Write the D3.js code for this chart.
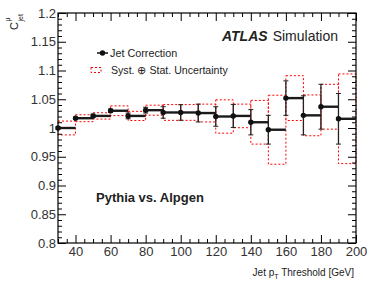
<!DOCTYPE html>
<html>
<head>
<meta charset="utf-8">
<script src="https://cdn.jsdelivr.net/npm/d3@7"></script>
<style>
  body { margin: 0; background: #fff; }
  svg { display: block; font-family: "Liberation Sans", Arial, sans-serif; }
</style>
</head>
<body>
<div id="chart"></div>
<script>
// jet pT thresholds (lower bin edge), bin width 10 GeV
var thresholds = [30, 40, 50, 60, 70, 80, 90, 100, 110, 120, 130, 140, 150, 160, 170, 180, 190];
var correction = [1.000, 1.017, 1.021, 1.030, 1.021, 1.031, 1.027, 1.027, 1.026, 1.020, 1.021, 1.010, 0.997, 1.052, 1.022, 1.037, 1.016];
var statErr = [0.002, 0.002, 0.003, 0.003, 0.005, 0.005, 0.010, 0.0135, 0.0155, 0.017, 0.020, 0.022, 0.025, 0.030, 0.034, 0.039, 0.044];
var totalErr = [0.012, 0.006, 0.0055, 0.0085, 0.008, 0.0087, 0.0137, 0.0137, 0.0155, 0.029, 0.0205, 0.038, 0.060, 0.039, 0.0355, 0.039, 0.078];
var binWidth = 10;

var xMajor = [40, 60, 80, 100, 120, 140, 160, 180, 200];
var yMajor = [0.8, 0.85, 0.9, 0.95, 1, 1.05, 1.1, 1.15, 1.2];
var yLabels = ['0.8', '0.85', '0.9', '0.95', '1', '1.05', '1.1', '1.15', '1.2'];

var width = 367, height = 284;
var frame = {left: 58, right: 356, top: 13, bottom: 243};

var svg = d3.select('#chart').append('svg')
  .attr('width', width)
  .attr('height', height);

var x = d3.scaleLinear().domain([30, 200]).range([frame.left, frame.right]);
var y = d3.scaleLinear().domain([0.8, 1.2]).range([frame.bottom, frame.top]);

var xMinor = d3.range(30, 201, 5).filter(function(v) { return xMajor.indexOf(v) < 0; });
var yMinor = d3.range(80, 121, 1).map(function(v) { return v / 100; })
  .filter(function(v) { return Math.round(v * 100) % 5 != 0; });

// uncertainty boxes, red dotted
svg.append('g').selectAll('rect')
  .data(thresholds)
  .enter()
  .append('rect')
  .attr('x', function(d) { return x(d); })
  .attr('width', function(d) { return x(d + binWidth) - x(d); })
  .attr('y', function(d, i) { return y(correction[i] + totalErr[i]); })
  .attr('height', function(d, i) { return y(correction[i] - totalErr[i]) - y(correction[i] + totalErr[i]); })
  .attr('fill', 'none')
  .attr('stroke', '#f00')
  .attr('stroke-width', 1)
  .attr('stroke-dasharray', '2,2');

// axes: ticks point inward on all four sides
function drawAxis(axis, tx, ty) {
  var g = svg.append('g').attr('transform', 'translate(' + tx + ',' + ty + ')').call(axis);
  g.select('.domain').remove();
  g.selectAll('line').attr('stroke', '#000').attr('stroke-width', 1);
  return g;
}

var bottom = drawAxis(d3.axisBottom(x).tickValues(xMajor).tickSize(-8).tickPadding(4), 0, frame.bottom);
drawAxis(d3.axisBottom(x).tickValues(xMinor).tickSize(-4).tickFormat(''), 0, frame.bottom);
drawAxis(d3.axisTop(x).tickValues(xMajor).tickSize(-8).tickFormat(''), 0, frame.top);
drawAxis(d3.axisTop(x).tickValues(xMinor).tickSize(-4).tickFormat(''), 0, frame.top);

var left = drawAxis(d3.axisLeft(y).tickValues(yMajor).tickSize(-8).tickPadding(2)
  .tickFormat(function(d, i) { return yLabels[i]; }), frame.left, 0);
drawAxis(d3.axisLeft(y).tickValues(yMinor).tickSize(-4).tickFormat(''), frame.left, 0);
drawAxis(d3.axisRight(y).tickValues(yMajor).tickSize(-8).tickFormat(''), frame.right, 0);
drawAxis(d3.axisRight(y).tickValues(yMinor).tickSize(-4).tickFormat(''), frame.right, 0);

[bottom, left].forEach(function(g) {
  g.selectAll('text')
    .attr('font-family', '"Liberation Sans", Arial, sans-serif')
    .attr('font-size', 13)
    .attr('fill', '#333');
});

svg.append('rect')
  .attr('x', frame.left).attr('y', frame.top)
  .attr('width', frame.right - frame.left).attr('height', frame.bottom - frame.top)
  .attr('fill', 'none').attr('stroke', '#000').attr('stroke-width', 1.2);

// error bars
var marks = svg.append('g');
marks.selectAll('line.err')
  .data(thresholds)
  .enter()
  .append('line')
  .classed('err', true)
  .attr('x1', function(d) { return x(d); })
  .attr('x2', function(d) { return x(d); })
  .attr('y1', function(d, i) { return y(correction[i] + statErr[i]); })
  .attr('y2', function(d, i) { return y(correction[i] - statErr[i]); })
  .attr('stroke', '#222')
  .attr('stroke-width', 1.3);

[1, -1].forEach(function(sign) {
  marks.selectAll('line.cap' + (sign > 0 ? 'up' : 'dn'))
    .data(thresholds)
    .enter()
    .append('line')
    .attr('x1', function(d) { return x(d) - 2.5; })
    .attr('x2', function(d) { return x(d) + 2.5; })
    .attr('y1', function(d, i) { return y(correction[i] + sign * statErr[i]); })
    .attr('y2', function(d, i) { return y(correction[i] + sign * statErr[i]); })
    .attr('stroke', '#222')
    .attr('stroke-width', 1);
});

// horizontal bin bars
marks.selectAll('line.bin')
  .data(thresholds)
  .enter()
  .append('line')
  .attr('x1', function(d) { return x(d); })
  .attr('x2', function(d) { return x(d + binWidth); })
  .attr('y1', function(d, i) { return y(correction[i]); })
  .attr('y2', function(d, i) { return y(correction[i]); })
  .attr('stroke', '#1a1a1a')
  .attr('stroke-width', 2.4);

marks.selectAll('circle')
  .data(thresholds)
  .enter()
  .append('circle')
  .attr('cx', function(d) { return x(d); })
  .attr('cy', function(d, i) { return y(correction[i]); })
  .attr('r', 2.7)
  .attr('fill', '#111');

// legend
svg.append('line').attr('x1', 97).attr('x2', 108).attr('y1', 53).attr('y2', 53)
  .attr('stroke', '#111').attr('stroke-width', 1.5);
svg.append('circle').attr('cx', 102.5).attr('cy', 53).attr('r', 2.7).attr('fill', '#111');
svg.append('text').attr('x', 110).attr('y', 57).attr('font-size', 10.8).attr('fill', '#222')
  .text('Jet Correction');

svg.append('rect').attr('x', 91).attr('y', 67.5).attr('width', 10).attr('height', 5)
  .attr('fill', 'none').attr('stroke', '#f00').attr('stroke-dasharray', '2,2');
svg.append('text').attr('x', 111).attr('y', 73.5).attr('font-size', 10.6).attr('fill', '#222')
  .text('Syst. \u2295 Stat. Uncertainty');

var atlas = svg.append('text').attr('x', 222).attr('y', 41).attr('font-size', 14).attr('fill', '#222');
atlas.append('tspan').attr('font-weight', 'bold').attr('font-style', 'italic').text('ATLAS');
atlas.append('tspan').attr('dx', 5).text('Simulation');

svg.append('text').attr('x', 96).attr('y', 202).attr('font-size', 13)
  .attr('font-weight', 'bold').attr('fill', '#222')
  .text('Pythia vs. Alpgen');

// axis titles
var xt = svg.append('text').attr('x', frame.right - 2).attr('y', 276)
  .attr('text-anchor', 'end').attr('font-size', 10).attr('fill', '#222');
xt.append('tspan').text('Jet p');
xt.append('tspan').attr('font-size', 7).attr('dy', 2.5).text('T');
xt.append('tspan').attr('dy', -2.5).text(' Threshold [GeV]');

var yt = svg.append('g').attr('transform', 'translate(18,30) rotate(-90)');
yt.append('text').attr('x', 0).attr('y', 0).attr('font-size', 11).attr('fill', '#222').text('C');
yt.append('text').attr('x', 8.5).attr('y', -8).attr('font-size', 7).attr('fill', '#222').text('\u03bc');
yt.append('text').attr('x', 8.5).attr('y', 4.5).attr('font-size', 7).attr('fill', '#222').text('jet');
</script>
</body>
</html>
